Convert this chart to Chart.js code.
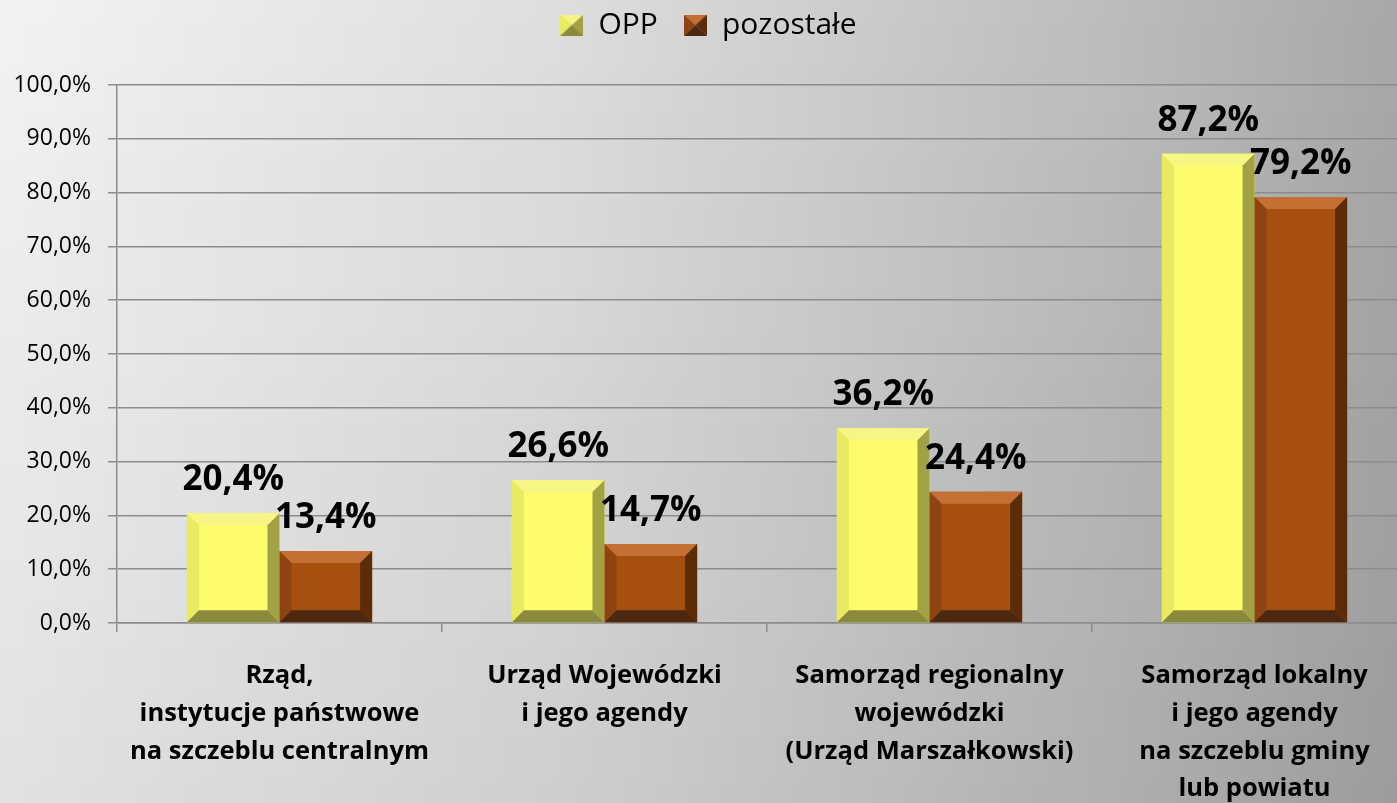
<!DOCTYPE html>
<html>
<head>
<meta charset="utf-8">
<script src="https://cdn.jsdelivr.net/npm/chart.js@4/dist/chart.umd.min.js"></script>
<style>
    html, body { margin: 0; padding: 0; overflow: hidden; }
    body {
        width: 1397px; height: 803px;
        background:
            linear-gradient(to bottom, rgba(0,0,0,0) 0%, rgba(0,0,0,0.07) 100%),
            linear-gradient(to right, #f3f3f5 0%, #dedede 40%, #bcbcbc 80%, #a8a8a8 100%);
    }
    #wrap { position: absolute; left: 0; top: 0; width: 1417px; height: 803px; }
</style>
</head>
<body>
<div id="wrap"><canvas id="chart"></canvas></div>
<script>
// chart data
const categories = [
    ['Rząd,', 'instytucje państwowe', 'na szczeblu centralnym'],
    ['Urząd Wojewódzki', 'i jego agendy'],
    ['Samorząd regionalny', 'wojewódzki', '(Urząd Marszałkowski)'],
    ['Samorząd lokalny', 'i jego agendy', 'na szczeblu gminy', 'lub powiatu']
];
const seriesNames = ['OPP', 'pozostałe'];
const oppValues = [20.4, 26.6, 36.2, 87.2];
const otherValues = [13.4, 14.7, 24.4, 79.2];
const yTicks = [0, 10, 20, 30, 40, 50, 60, 70, 80, 90, 100];

// bevel palettes: main, top, left, right, bottom
const palettes = [
    { main: '#fcfc6c', top: '#f6f684', left: '#eaea62', right: '#a2a244', bottom: '#8a8a3c' },
    { main: '#a5500e', top: '#c47034', left: '#8e4410', right: '#5c2c08', bottom: '#4c2810' }
];

function fmt(v) {
    return v.toFixed(1).replace('.', ',') + '%';
}

function legendIcon(p) {
    const c = document.createElement('canvas');
    c.width = 23; c.height = 21;
    const g = c.getContext('2d');
    const w = 23, h = 21, cx = w / 2, cy = h / 2;
    const tri = (pts, col) => {
        g.fillStyle = col;
        g.beginPath();
        g.moveTo(pts[0], pts[1]);
        g.lineTo(pts[2], pts[3]);
        g.lineTo(pts[4], pts[5]);
        g.closePath();
        g.fill();
    };
    tri([0, 0, w, 0, cx, cy], p.top);
    tri([0, 0, cx, cy, 0, h], p.left);
    tri([w, 0, w, h, cx, cy], p.right);
    tri([0, h, cx, cy, w, h], p.bottom);
    return c;
}

// leave extra room under the legend, like the original
const legendSpace = {
    id: 'legendSpace',
    afterInit(chart) {
        const legend = chart.legend;
        const fit = legend.fit;
        legend.fit = function() {
            fit.call(this);
            this.height += 35;
        };
    }
};

const bevelPlugin = {
    id: 'bevel',
    afterDatasetsDraw(chart) {
        const ctx = chart.ctx;
        chart.data.datasets.forEach((ds, i) => {
            const p = palettes[i];
            chart.getDatasetMeta(i).data.forEach(bar => {
                const l = bar.x - bar.width / 2, r = bar.x + bar.width / 2;
                const t = bar.y, bt = bar.base;
                const b = Math.min(12, (bt - t) / 2);
                const poly = (pts, col) => {
                    ctx.fillStyle = col;
                    ctx.beginPath();
                    ctx.moveTo(pts[0], pts[1]);
                    for (let k = 2; k < pts.length; k += 2) ctx.lineTo(pts[k], pts[k + 1]);
                    ctx.closePath();
                    ctx.fill();
                };
                ctx.save();
                poly([l, t, r, t, r - b, t + b, l + b, t + b], p.top);
                poly([l, t, l + b, t + b, l + b, bt - b, l, bt], p.left);
                poly([r, t, r, bt, r - b, bt - b, r - b, t + b], p.right);
                poly([l, bt, r, bt, r - b, bt - b, l + b, bt - b], p.bottom);
                ctx.restore();
            });
        });
    },
    afterDraw(chart) {
        const ctx = chart.ctx;
        ctx.save();
        ctx.font = 'bold 35px "Open Sans"';
        ctx.fillStyle = '#000';
        ctx.textAlign = 'center';
        ctx.textBaseline = 'alphabetic';
        chart.data.datasets.forEach((ds, i) => {
            chart.getDatasetMeta(i).data.forEach((bar, j) => {
                ctx.fillText(fmt(ds.data[j]), bar.x, bar.y - 23);
            });
        });
        ctx.restore();
    }
};

new Chart(document.getElementById('chart'), {
    type: 'bar',
    data: {
        labels: categories,
        datasets: [
            {
                label: seriesNames[0],
                data: oppValues,
                backgroundColor: palettes[0].main,
                pointStyle: legendIcon(palettes[0]),
                categoryPercentage: 0.57,
                barPercentage: 1
            },
            {
                label: seriesNames[1],
                data: otherValues,
                backgroundColor: palettes[1].main,
                pointStyle: legendIcon(palettes[1]),
                categoryPercentage: 0.57,
                barPercentage: 1
            }
        ]
    },
    options: {
        responsive: true,
        maintainAspectRatio: false,
        animation: false,
        layout: { padding: { top: -16, left: 0, right: 0, bottom: 0 } },
        plugins: {
            legend: {
                position: 'top',
                labels: {
                    usePointStyle: true,
                    boxWidth: 23,
                    boxHeight: 21,
                    padding: 26,
                    color: '#000',
                    font: { family: 'Open Sans', size: 30 }
                }
            },
            tooltip: { enabled: false }
        },
        scales: {
            x: {
                offset: true,
                grid: {
                    offset: true,
                    drawOnChartArea: false,
                    drawTicks: true,
                    tickLength: 9,
                    color: '#8c8c8c',
                    lineWidth: 1.5
                },
                border: { display: true, color: '#8c8c8c', width: 1.5 },
                ticks: {
                    color: '#000',
                    padding: 25,
                    maxRotation: 0,
                    autoSkip: false,
                    font: { family: 'Open Sans', size: 25.5, weight: 'bold', lineHeight: 1.48 }
                },
                afterFit(scale) { scale.height = 180; }
            },
            y: {
                min: 0,
                max: 100,
                afterBuildTicks(scale) {
                    scale.ticks = yTicks.map(v => ({ value: v }));
                },
                grid: {
                    color: '#8c8c8c',
                    lineWidth: 1.5,
                    drawTicks: true,
                    tickLength: 9
                },
                border: { display: true, color: '#8c8c8c', width: 1.5 },
                ticks: {
                    color: '#000',
                    padding: 17,
                    font: { family: 'Open Sans', size: 23 },
                    callback: v => fmt(v)
                },
                afterFit(scale) { scale.width = 117; }
            }
        }
    },
    plugins: [legendSpace, bevelPlugin]
});
</script>
</body>
</html>
